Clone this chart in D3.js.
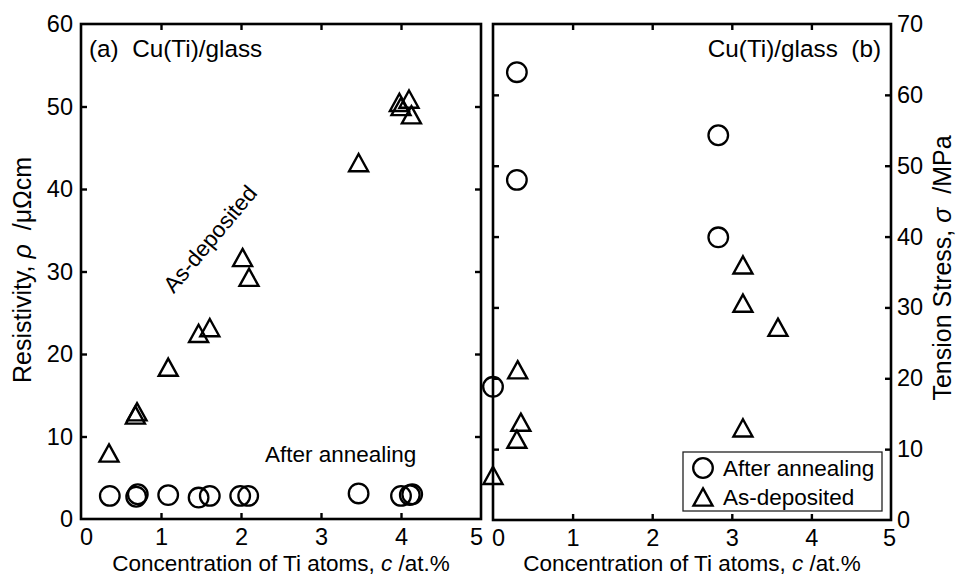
<!DOCTYPE html>
<html><head><meta charset="utf-8">
<script src="https://cdn.jsdelivr.net/npm/d3@7"></script>
<style>
body{margin:0;background:#fff;}
svg text{font-family:"Liberation Sans",Arial,sans-serif;fill:#000;}
</style></head>
<body><svg id="c" width="956" height="576"></svg>
<script>
// Panel (a): resistivity vs Ti concentration
const aAnnealX = [0.36,0.69,0.71,1.09,1.47,1.61,1.99,2.09,3.47,4.00,4.11,4.14];
const aAnnealY = [2.8,2.7,3.0,2.9,2.6,2.8,2.8,2.8,3.1,2.8,2.9,3.0];
const aDepX = [0.35,0.68,0.70,1.09,1.47,1.61,2.02,2.10,3.47,3.98,4.00,4.10,4.13];
const aDepY = [8.0,12.6,13.0,18.4,22.5,23.2,31.7,29.3,43.2,50.5,50.0,50.9,49.0];
// Panel (b): tension stress vs Ti concentration
const bAnnealX = [0.30,0.30,2.83,2.83,0.00];
const bAnnealY = [63.2,48.0,54.3,39.9,18.8];
const bDepX = [3.14,3.14,3.58,0.31,0.35,0.30,0.00,3.14];
const bDepY = [36.0,30.6,27.2,21.2,13.8,11.4,6.3,13.0];
const xTicks = [0,1,2,3,4,5];
const aYTicks = [0,10,20,30,40,50,60];
const bYTicks = [0,10,20,30,40,50,60,70];

const svg = d3.select("#c");
const FS = 22.5, TFS = 23.5, LFS = 25, PFS = 24.3;
const xa = d3.scaleLinear().domain([0,5]).range([81,481]);
const ya = d3.scaleLinear().domain([0,60]).range([519,24]);
const xb = d3.scaleLinear().domain([0,5]).range([493,891]);
const yb = d3.scaleLinear().domain([0,70]).range([520,24]);

function tri(g, cx, cy){
  const w=9.5, h=8.6;
  g.append("path").attr("d",`M${cx},${cy-h}L${cx+w},${cy+h}L${cx-w},${cy+h}Z`)
   .attr("fill","none").attr("stroke","#000").attr("stroke-width",2.4).attr("stroke-linejoin","miter");
}
function circ(g, cx, cy){
  g.append("circle").attr("cx",cx).attr("cy",cy).attr("r",9.8)
   .attr("fill","none").attr("stroke","#000").attr("stroke-width",2.3);
}
function styleAxis(sel){
  sel.select(".domain").remove();
  sel.selectAll(".tick line").attr("stroke","#000").attr("stroke-width",2.4);
  sel.selectAll(".tick text").attr("font-size",TFS).attr("font-family","Liberation Sans, Arial, sans-serif").attr("fill","#000");
}
function panel(x, y, yTicks, side){
  const [x0,x1] = x.range(), [y0,y1] = y.range();
  const gb = svg.append("g").attr("transform",`translate(0,${y0})`)
    .call(d3.axisBottom(x).tickValues(xTicks).tickSize(-6).tickPadding(9).tickFormat(d3.format("d")));
  styleAxis(gb);
  gb.selectAll(".tick").filter(d=>d===0||d===5).select("line").remove();
  gb.selectAll(".tick text").attr("dy","0.71em");
  const gt = svg.append("g").attr("transform",`translate(0,${y1})`)
    .call(d3.axisTop(x).tickValues([1,2,3,4]).tickSize(-6).tickFormat(""));
  styleAxis(gt);
  const inner = yTicks.filter(d=>d!==yTicks[0]&&d!==yTicks[yTicks.length-1]);
  if(side==="left"){
    const gl = svg.append("g").attr("transform",`translate(${x0},0)`)
      .call(d3.axisLeft(y).tickValues(yTicks).tickSize(-6).tickPadding(8));
    styleAxis(gl);
    gl.selectAll(".tick").filter(d=>d===yTicks[0]||d===yTicks[yTicks.length-1]).select("line").remove();
    const gr = svg.append("g").attr("transform",`translate(${x1},0)`)
      .call(d3.axisRight(y).tickValues(inner).tickSize(-6).tickFormat(""));
    styleAxis(gr);
  } else {
    const gl = svg.append("g").attr("transform",`translate(${x0},0)`)
      .call(d3.axisLeft(y).tickValues(inner).tickSize(-6).tickFormat(""));
    styleAxis(gl);
    const gr = svg.append("g").attr("transform",`translate(${x1},0)`)
      .call(d3.axisRight(y).tickValues(yTicks).tickSize(-6).tickPadding(6));
    styleAxis(gr);
    gr.selectAll(".tick").filter(d=>d===yTicks[0]||d===yTicks[yTicks.length-1]).select("line").remove();
  }
  svg.append("rect").attr("x",x0).attr("y",y1).attr("width",x1-x0).attr("height",y0-y1)
    .attr("fill","none").attr("stroke","#000").attr("stroke-width",2.6);
  return gb;
}
const gba = panel(xa, ya, aYTicks, "left");
const gbb = panel(xb, yb, bYTicks, "right");
gba.selectAll(".tick").filter(d=>d===0).select("text").attr("dx",5);
gba.selectAll(".tick").filter(d=>d===5).select("text").attr("dx",-5);
gbb.selectAll(".tick").filter(d=>d===0).select("text").attr("dx",5);
gbb.selectAll(".tick").filter(d=>d===5).select("text").attr("dx",-2);

// markers
const ma = svg.append("g");
aAnnealX.forEach((v,i)=>circ(ma, xa(v), ya(aAnnealY[i])));
aDepX.forEach((v,i)=>tri(ma, xa(v), ya(aDepY[i])));
const mb = svg.append("g");
bAnnealX.forEach((v,i)=>circ(mb, xb(v), yb(bAnnealY[i])));
bDepX.forEach((v,i)=>tri(mb, xb(v), yb(bDepY[i])));

// texts
function txt(x,y,s,anchor,fs){
  return svg.append("text").attr("x",x).attr("y",y).attr("font-size",fs||FS).attr("text-anchor",anchor||"start").text(s);
}
txt(89,57,"(a)  Cu(Ti)/glass","start",PFS).attr("xml:space","preserve");
txt(881,57,"Cu(Ti)/glass  (b)","end",PFS).attr("xml:space","preserve");
txt(265,462,"After annealing");
svg.append("text").attr("font-size",FS).attr("text-anchor","middle")
  .attr("transform","translate(216,244) rotate(-50)").text("As-deposited");

// axis titles
[[81,481],[493,891]].forEach(([a,b])=>{
  svg.append("text").attr("x",(a+b)/2).attr("y",571).attr("font-size",FS).attr("text-anchor","middle")
    .call(t=>{t.append("tspan").text("Concentration of Ti atoms, ");t.append("tspan").attr("font-style","italic").text("c");t.append("tspan").text(" /at.%");});
});
svg.append("text").attr("font-size",LFS).attr("text-anchor","middle").attr("xml:space","preserve")
  .attr("transform","translate(31,270) rotate(-90)")
  .call(t=>{t.append("tspan").text("Resistivity, ");t.append("tspan").attr("font-style","italic").text("ρ");t.append("tspan").text("  /μΩcm");});
svg.append("text").attr("font-size",LFS).attr("text-anchor","middle").attr("xml:space","preserve")
  .attr("transform","translate(951,268) rotate(-90)")
  .call(t=>{t.append("tspan").text("Tension Stress, ");t.append("tspan").attr("font-style","italic").text("σ");t.append("tspan").text("  /MPa");});

// legend
const lg = svg.append("g");
lg.append("rect").attr("x",683).attr("y",452).attr("width",199).attr("height",59)
  .attr("fill","#fff").attr("stroke","#222").attr("stroke-width",1.3);
circ(lg, 703, 468);
tri(lg, 703, 497);
txt(723,476,"After annealing");
txt(723,505,"As-deposited");
</script></body></html>
